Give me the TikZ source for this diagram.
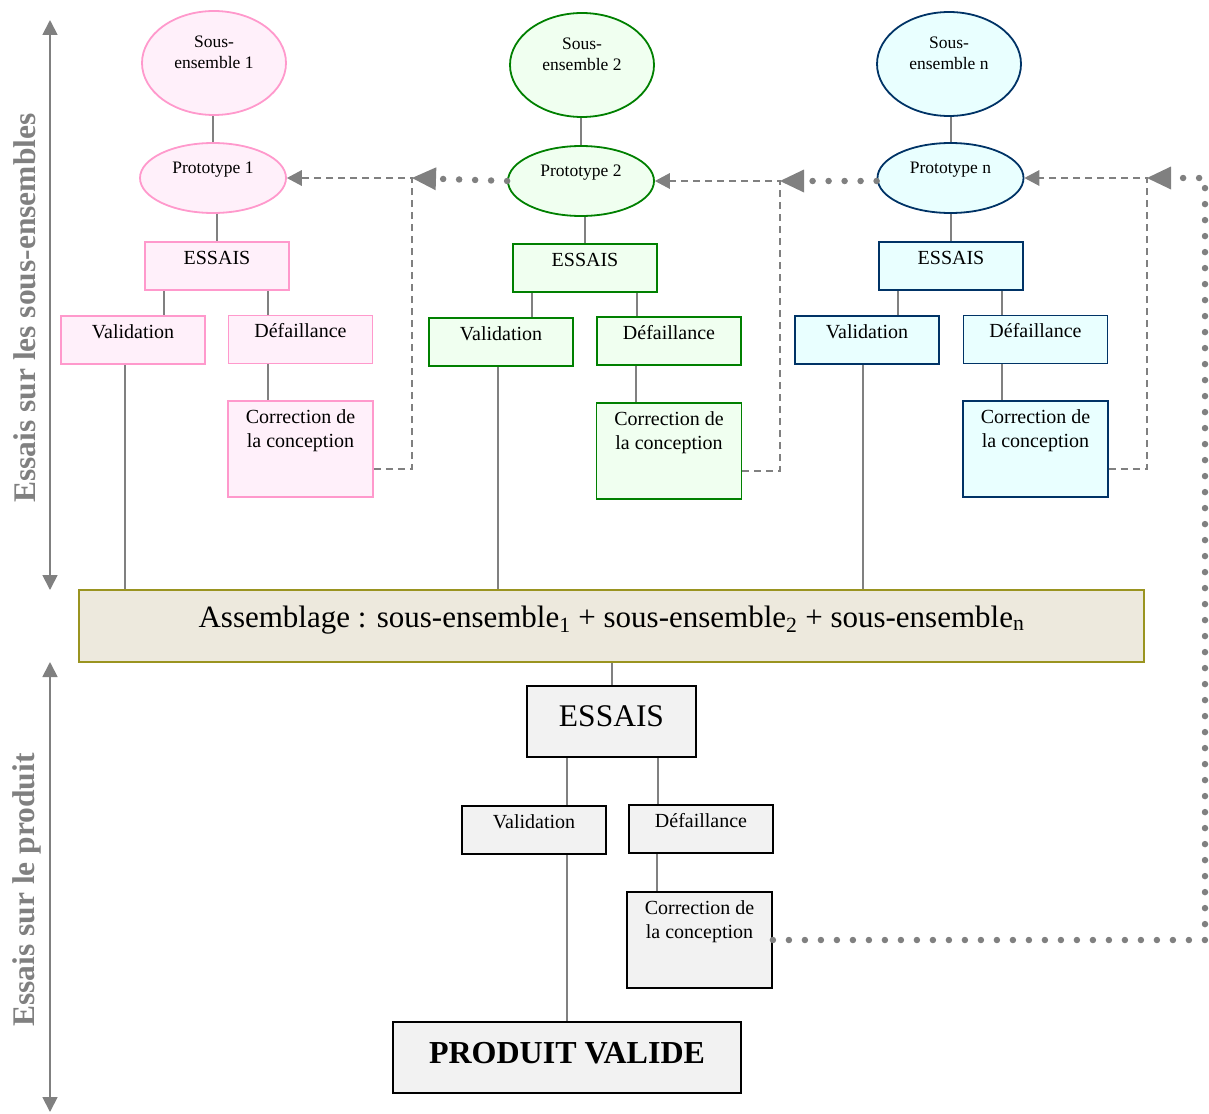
\documentclass[tikz,border=0pt]{standalone}
\usepackage{fontspec}
\setmainfont{Liberation Serif}
\usetikzlibrary{shapes.geometric,arrows.meta,calc,backgrounds}

\definecolor{pinkline}{HTML}{FF99CC}
\definecolor{pinkfill}{HTML}{FFF0FA}
\definecolor{greenline}{HTML}{008000}
\definecolor{greenfill}{HTML}{F0FFF0}
\definecolor{navyline}{HTML}{003366}
\definecolor{cyanfill}{HTML}{E9FFFF}
\definecolor{linkgray}{HTML}{808080}
\definecolor{asmline}{HTML}{9A9420}
\definecolor{asmfill}{HTML}{EDE9DD}
\definecolor{prodfill}{HTML}{F2F2F2}

\tikzset{
  ell/.style={ellipse, line width=1.8pt, inner sep=0pt},
  bx/.style={rectangle, line width=1.8pt, inner sep=0pt},
  subset/.style={ell, minimum width=144pt, minimum height=104pt},
  proto/.style={ell, minimum width=146pt, minimum height=70pt},
  smallbox/.style={bx, minimum width=144pt, minimum height=48pt},
  corrbox/.style={bx, minimum width=145pt, minimum height=96pt},
  pinkc/.style={draw=pinkline, fill=pinkfill},
  greenc/.style={draw=greenline, fill=greenfill},
  navyc/.style={draw=navyline, fill=cyanfill},
  greyc/.style={draw=black, fill=prodfill},
  elltxt/.style={inner sep=0pt, align=center, anchor=base, font=\fontsize{17.5}{21}\selectfont},
  boxtxt/.style={inner sep=0pt, align=center, anchor=base, font=\fontsize{20}{24}\selectfont},
  conn/.style={draw=linkgray, line width=2pt},
  dashlink/.style={draw=linkgray, line width=1.8pt, dash pattern=on 7pt off 5pt,
    -{Triangle[length=15pt,width=16pt,line width=0pt]}},
  dotlink/.style={draw=linkgray, line width=6.5pt, line cap=round, dash pattern=on 0pt off 16pt,
    -{Triangle[length=24pt,width=23pt,line width=0pt]}},
  sidearrow/.style={draw=linkgray, line width=1.8pt,
    {Triangle[length=15pt,width=15pt]}-{Triangle[length=15pt,width=15pt]}},
  sidetxt/.style={rotate=90, anchor=base, inner sep=0pt, text=linkgray,
    font=\fontsize{31.5}{36}\selectfont\bfseries},
}

\begin{document}
\begin{tikzpicture}[x=1pt,y=-1pt]
\useasboundingbox (0,0) rectangle (1209,1113);

% ---- side scales ----
\coordinate (ua) at (50,20);
\coordinate (ub) at (50,590);
\coordinate (la) at (50,662);
\coordinate (lb) at (50,1112);
\draw[sidearrow] (ub) -- (ua);
\draw[sidearrow] (lb) -- (la);
\node[sidetxt] (sideup) at (35,308) {Essais sur les sous-ensembles};
\node[sidetxt] (sidelow) at (34,890) {Essais sur le produit};

% ---- column 1 ----
\node[subset, pinkc] (s1) at (214,63) {};
\node[proto, pinkc] (p1) at (213,178) {};
\node[smallbox, pinkc] (e1) at (217,266) {};
\node[smallbox, pinkc] (v1) at (133,340) {};
\node[smallbox, pinkc] (d1) at (300.5,339.5) {};
\node[corrbox, pinkc] (c1) at (300.5,449) {};

% ---- column 2 ----
\node[subset, greenc] (s2) at (582,65) {};
\node[proto, greenc] (p2) at (581,181) {};
\node[smallbox, greenc] (e2) at (585,268) {};
\node[smallbox, greenc] (v2) at (501,342) {};
\node[smallbox, greenc] (d2) at (669,341) {};
\node[corrbox, greenc] (c2) at (669,451) {};

% ---- column n ----
\node[subset, navyc] (s3) at (949,64) {};
\node[proto, navyc] (p3) at (950.5,178) {};
\node[smallbox, navyc] (e3) at (951,266) {};
\node[smallbox, navyc] (v3) at (867,340) {};
\node[smallbox, navyc] (d3) at (1035.5,339.5) {};
\node[corrbox, navyc] (c3) at (1035.5,449) {};

% ---- texts of the three columns (base = last line) ----
\foreach \k/\n in {1/1,2/2,3/n}{
  \node[elltxt] (ts\k) at ($(s\k.center)+(0,6)$) {Sous-\\ensemble \n};
  \node[elltxt] (tp\k) at ($(p\k.center)+(0,-5)$) {Prototype \n};
  \node[boxtxt] (te\k) at ($(e\k.center)+(0,-2)$) {ESSAIS};
  \node[boxtxt] (tv\k) at ($(v\k.center)+(0,-2)$) {Validation};
  \node[boxtxt] (td\k) at ($(d\k.center)+(0,-2)$) {Défaillance};
  \node[boxtxt] (tc\k) at ($(c\k.center)+(0,-2)$) {Correction de\\la conception};
}

% ---- assembly and product ----
\node[bx, draw=asmline, fill=asmfill, minimum width=1065pt, minimum height=72pt] (A) at (611.5,626) {};
\node[inner sep=0pt, anchor=base, font=\fontsize{31}{36}\selectfont] (tA) at ($(A.center)+(0,1)$)
  {Assemblage : sous-ensemble\textsubscript{1} + sous-ensemble\textsubscript{2} + sous-ensemble\textsubscript{n}};

\node[bx, greyc, minimum width=169pt, minimum height=71pt] (E) at (611.5,721.5) {};
\node[inner sep=0pt, anchor=base, font=\fontsize{31.5}{36}\selectfont] (tE) at ($(E.center)+(0,5)$) {ESSAIS};
\node[smallbox, greyc] (V) at (534,830) {};
\node[boxtxt] (tV) at ($(V.center)+(0,-2)$) {Validation};
\node[smallbox, greyc] (D) at (701,829) {};
\node[boxtxt] (tD) at ($(D.center)+(0,-2)$) {Défaillance};
\node[corrbox, greyc] (C) at (699.5,940) {};
\node[boxtxt] (tC) at ($(C.center)+(0,-2)$) {Correction de\\la conception};
\node[bx, greyc, minimum width=348pt, minimum height=71pt] (P) at (567,1057.5) {};
\node[inner sep=0pt, anchor=base, font=\fontsize{32}{36}\selectfont\bfseries] (tP) at ($(P.center)+(0,5.5)$) {PRODUIT VALIDE};

% ---- solid links, behind the boxes ----
\begin{scope}[on background layer]
\foreach \k in {1,2,3}{
  \draw[conn] (p\k.north) -- (p\k.north |- s\k.south);
  \draw[conn] (e\k.north) -- (e\k.north |- p\k.south);
}
\draw[conn] ($(e1.south west)+(20,0)$) coordinate (q) -- (q |- v1.north);
\draw[conn] ($(e1.south east)+(-22,0)$) coordinate (q) -- (q |- d1.north);
\draw[conn] ($(d1.south west)+(40,0)$) coordinate (q) -- (q |- c1.north);
\draw[conn] ($(v1.south west)+(65,0)$) coordinate (q) -- (q |- A.north);

\draw[conn] ($(e2.south west)+(20,0)$) coordinate (q) -- (q |- v2.north);
\draw[conn] ($(e2.south east)+(-21,0)$) coordinate (q) -- (q |- d2.north);
\draw[conn] ($(d2.south west)+(40,0)$) coordinate (q) -- (q |- c2.north);
\draw[conn] ($(v2.south west)+(70,0)$) coordinate (q) -- (q |- A.north);

\draw[conn] ($(e3.south west)+(20,0)$) coordinate (q) -- (q |- v3.north);
\draw[conn] ($(e3.south east)+(-22,0)$) coordinate (q) -- (q |- d3.north);
\draw[conn] ($(d3.south west)+(39,0)$) coordinate (q) -- (q |- c3.north);
\draw[conn] ($(v3.south west)+(69,0)$) coordinate (q) -- (q |- A.north);

\draw[conn] (E.north) -- (E.north |- A.south);
\draw[conn] ($(E.south west)+(41,0)$) coordinate (q) -- (q |- V.north);
\draw[conn] ($(E.south east)+(-39,0)$) coordinate (q) -- (q |- D.north);
\draw[conn] ($(D.south west)+(29,0)$) coordinate (q) -- (q |- C.north);
\draw[conn] ($(V.south west)+(106,0)$) coordinate (q) -- (q |- P.north);
\end{scope}

% ---- feedback loops ----
\coordinate (j1) at (412,178);
\coordinate (j2) at (780,181);
\coordinate (j3) at (1147,178);
\coordinate (k) at (1205,178);

\draw[dashlink] ($(c1.east)+(0,20)$) -| (j1) -- (p1.east);
\draw[dashlink] ($(c2.east)+(0,20)$) -| (j2) -- (p2.east);
\draw[dashlink] ($(c3.east)+(0,20)$) -| (j3) -- (p3.east);

\draw[dotlink] (p2.west) -- (j1);
\draw[dotlink] (j2 -| p3.west) -- (j2);
\draw[dotlink] (C.east) -| (k) -- (j3);
\end{tikzpicture}
\end{document}
